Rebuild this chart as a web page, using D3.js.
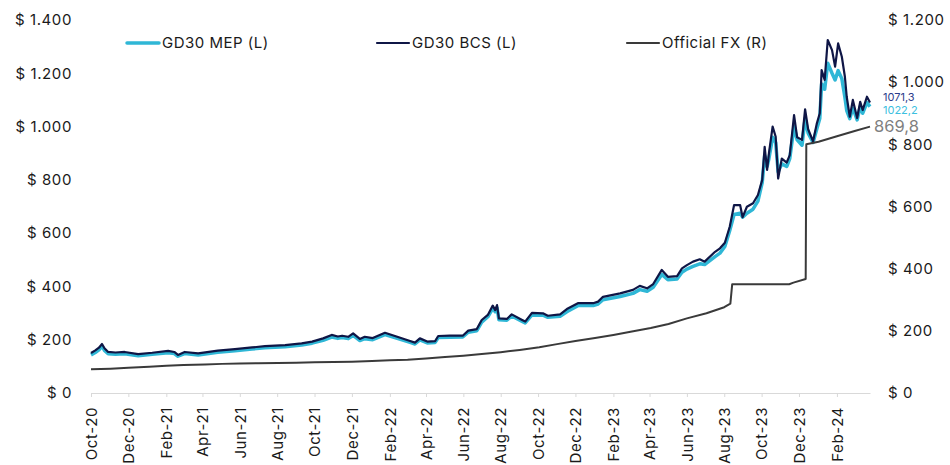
<!DOCTYPE html>
<html>
<head>
<meta charset="utf-8">
<script src="https://cdn.jsdelivr.net/npm/d3@7"></script>
<style>
  body { margin: 0; background: #fff; }
  text { font-family: Inter, "Noto Sans", sans-serif; }
</style>
</head>
<body>
<svg id="chart" width="950" height="465"></svg>
<script>
// GD30 implied FX rates (left axis) and official rate (right axis)
var dates = ["2020-10-01","2020-10-08","2020-10-14","2020-10-19","2020-10-23","2020-10-29","2020-11-10","2020-11-25","2020-12-17",
  "2021-01-09","2021-02-04","2021-02-14","2021-02-20","2021-03-03","2021-03-25","2021-04-26","2021-05-24","2021-06-21","2021-07-12",
  "2021-08-14","2021-09-10","2021-09-27","2021-10-15","2021-10-29","2021-11-08","2021-11-15","2021-11-25","2021-12-03","2021-12-14",
  "2021-12-22","2022-01-04","2022-01-24","2022-02-13","2022-03-06","2022-03-14","2022-03-22","2022-04-03","2022-04-16","2022-04-21",
  "2022-05-10","2022-05-31","2022-06-09","2022-06-23","2022-07-01","2022-07-11","2022-07-19","2022-07-23","2022-07-26","2022-07-29",
  "2022-08-11","2022-08-19","2022-09-05","2022-09-10","2022-09-21","2022-10-09","2022-10-17","2022-11-06","2022-11-17","2022-12-05",
  "2022-12-30","2023-01-07","2023-01-15","2023-02-12","2023-03-05","2023-03-16","2023-03-28","2023-04-07","2023-04-21","2023-05-01",
  "2023-05-16","2023-05-24","2023-06-01","2023-06-11","2023-06-22","2023-06-30","2023-07-17","2023-07-25","2023-08-02","2023-08-10",
  "2023-08-17","2023-08-27","2023-08-31","2023-09-07","2023-09-17","2023-09-25","2023-10-02","2023-10-06","2023-10-10","2023-10-13",
  "2023-10-19","2023-10-24","2023-10-28","2023-11-03","2023-11-11","2023-11-16","2023-11-23","2023-11-28","2023-12-06","2023-12-11",
  "2023-12-16","2023-12-24","2023-12-30","2024-01-04","2024-01-07","2024-01-12","2024-01-17","2024-01-24","2024-01-29","2024-02-03",
  "2024-02-09","2024-02-14","2024-02-17","2024-02-22","2024-02-27","2024-03-05","2024-03-10","2024-03-14","2024-03-21","2024-03-26"];

var bcs = [150,160,170,184,168,154,152,154,146,
  151,158,154,143,154,149,159,165,171,176,
  180,186,193,205,218,212,215,211,224,203,
  211,206,226,211,195,189,205,193,195,214,
  215,215,234,240,274,293,328,311,330,280,
  278,295,274,268,301,299,290,295,315,337,
  337,343,361,374,387,402,393,409,462,436,
  439,468,480,493,502,493,530,543,564,624,
  705,705,660,699,712,743,800,924,837,900,
  1000,962,805,880,865,893,1043,960,950,1065,
  990,945,1010,1050,1212,1175,1325,1287,1225,1312,
  1262,1187,1112,1037,1100,1032,1093,1062,1112,1090];

var mep = [143,152,162,176,160,147,145,147,140,
  145,151,148,138,148,143,153,159,165,170,
  174,180,187,198,210,205,208,204,216,197,
  204,200,219,205,190,184,199,188,190,208,
  209,210,228,234,266,286,318,305,320,275,
  273,289,269,263,293,292,284,288,305,328,
  328,334,350,362,374,388,382,397,445,425,
  428,453,465,475,485,482,512,525,550,610,
  670,675,660,675,690,720,790,890,850,880,
  960,940,830,860,850,880,1000,950,930,1030,
  975,940,990,1030,1160,1140,1238,1200,1175,1210,
  1180,1110,1060,1030,1070,1025,1075,1050,1090,1075];

var fxDates = ["2020-10-01","2020-11-02","2020-12-01","2021-01-04","2021-02-01","2021-03-01","2021-04-05","2021-05-03",
  "2021-06-01","2021-07-01","2021-08-02","2021-09-01","2021-10-01","2021-11-01","2021-12-01","2022-01-03","2022-02-01",
  "2022-03-02","2022-04-01","2022-05-02","2022-06-01","2022-07-01","2022-08-01","2022-09-01","2022-10-03","2022-11-01",
  "2022-12-01","2023-01-02","2023-02-01","2023-03-01","2023-04-03","2023-05-02","2023-06-01","2023-07-03","2023-08-01",
  "2023-08-11","2023-08-14","2023-11-15","2023-11-22","2023-12-12","2023-12-13","2024-01-02","2024-02-01","2024-03-01","2024-03-26"];
var fx = [76.2,78.3,81.4,84.1,87.3,89.8,92.0,93.7,
  94.8,95.7,96.7,97.7,98.7,99.7,100.9,102.7,105.0,
  107.0,111.0,115.5,119.7,125.2,131.3,138.7,147.3,157.2,
  167.1,177.1,186.8,197.1,209.0,222.2,240.0,256.7,276.0,
  287.3,350.0,350.0,355.0,366.5,800.0,808.5,826.0,843.0,857.0];

var seriesNames = ["GD30 MEP (L)", "GD30 BCS (L)", "Official FX (R)"];
var seriesColors = ["#2fb7d6", "#0f1646", "#3a3a3a"];
var leftTicks = [0, 200, 400, 600, 800, 1000, 1200, 1400];
var rightTicks = [0, 200, 400, 600, 800, 1000, 1200];
var endLabels = ["1071,3", "1022,2", "869,8"];

var svg = d3.select("#chart");
var parse = d3.timeParse("%Y-%m-%d");
var start = parse(dates[0]), end = parse(dates[dates.length - 1]);

var loc = d3.formatLocale({decimal: ",", thousands: ".", grouping: [3], currency: ["$ ", ""]});
var money = loc.format("$,");

var x = d3.scaleTime().domain([start, end]).range([91, 870]);
var yL = d3.scaleLinear().domain([0, 1400]).range([393, 20]);
var yR = d3.scaleLinear().domain([0, 1200]).range([393, 20]);

// left axis
var gl = svg.append("g")
  .attr("transform", "translate(91,0)")
  .call(d3.axisLeft(yL).tickValues(leftTicks).tickSize(0).tickPadding(19).tickFormat(money));
gl.select(".domain").remove();

// right axis
var gr = svg.append("g")
  .attr("transform", "translate(870,0)")
  .call(d3.axisRight(yR).tickValues(rightTicks).tickSize(0).tickPadding(18).tickFormat(money));
gr.select(".domain").remove();

svg.selectAll(".tick text")
  .attr("font-size", "15px")
  .attr("letter-spacing", "0.6px")
  .attr("fill", "#1a1a1a")
  .attr("font-family", "Inter, sans-serif");

// bottom axis, ticks every two months
var gx = svg.append("g")
  .attr("transform", "translate(0,393)")
  .call(d3.axisBottom(x)
    .tickValues(d3.timeMonth.range(start, end, 2))
    .tickSize(4).tickSizeOuter(0)
    .tickFormat(d3.timeFormat("%b-%y")));
gx.select(".domain").attr("stroke", "#d9d9d9");
gx.selectAll(".tick line").attr("stroke", "#d9d9d9");
gx.selectAll("text")
  .attr("transform", "rotate(-90)")
  .attr("x", -14)
  .attr("y", 0)
  .attr("dy", "0.35em")
  .attr("text-anchor", "end")
  .attr("font-size", "15px")
  .attr("letter-spacing", "0.6px")
  .attr("fill", "#1a1a1a")
  .attr("font-family", "Inter, sans-serif");

// lines
var lineL = d3.line()
  .x(function(d) { return x(d[0]); })
  .y(function(d) { return yL(d[1]); });
var lineR = d3.line()
  .x(function(d) { return x(d[0]); })
  .y(function(d) { return yR(d[1]); });

var mepData = dates.map(function(d, i) { return [parse(d), mep[i]]; });
var bcsData = dates.map(function(d, i) { return [parse(d), bcs[i]]; });
var fxData = fxDates.map(function(d, i) { return [parse(d), fx[i]]; });

svg.append("path").datum(mepData)
  .attr("d", lineL).attr("fill", "none")
  .attr("stroke", seriesColors[0]).attr("stroke-width", 3.5)
  .attr("stroke-linejoin", "round");

svg.append("path").datum(bcsData)
  .attr("d", lineL).attr("fill", "none")
  .attr("stroke", seriesColors[1]).attr("stroke-width", 2.2)
  .attr("stroke-linejoin", "round");

svg.append("path").datum(fxData)
  .attr("d", lineR).attr("fill", "none")
  .attr("stroke", seriesColors[2]).attr("stroke-width", 2)
  .attr("stroke-linejoin", "round");

// legend
var leg = svg.selectAll(".leg")
  .data(seriesNames).enter()
  .append("g")
  .attr("class", "leg")
  .attr("transform", function(d, i) { return "translate(" + (127 + i * 250) + ",43)"; });
leg.append("line")
  .attr("x1", 0).attr("x2", 32)
  .attr("stroke", function(d, i) { return seriesColors[i]; })
  .attr("stroke-width", function(d, i) { return i == 0 ? 3.5 : 2.2; })
  .attr("stroke-linecap", "round");
leg.append("text")
  .attr("x", 35).attr("dy", "0.35em")
  .attr("font-size", "15px")
  .attr("letter-spacing", "0.5px")
  .attr("fill", "#1a1a1a")
  .text(function(d) { return d; });

// end-of-series value labels
svg.append("text").attr("x", 883).attr("y", 101)
  .attr("font-size", "11px").attr("fill", "#2b3d8c").text(endLabels[0]);
svg.append("text").attr("x", 883).attr("y", 114)
  .attr("font-size", "11px").attr("fill", "#3cc0e0").text(endLabels[1]);
svg.append("text").attr("x", 874).attr("y", 131.5)
  .attr("font-size", "16.5px").attr("fill", "#808080").text(endLabels[2]);
</script>
</body>
</html>
